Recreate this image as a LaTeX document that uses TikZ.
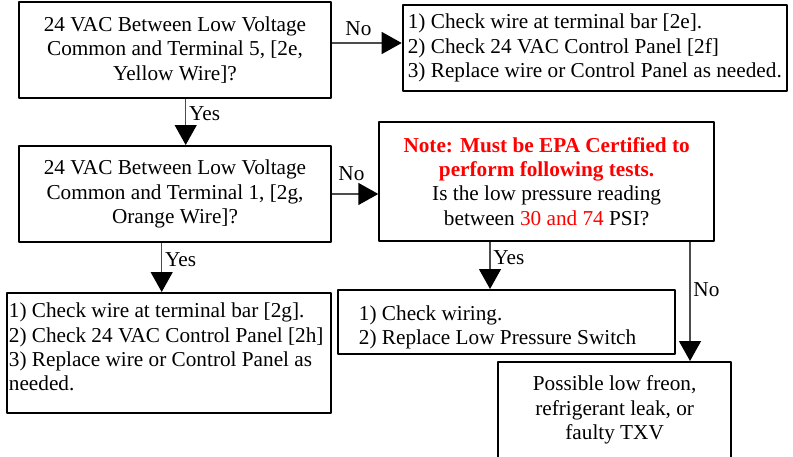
\documentclass[tikz,border=0pt]{standalone}
\usepackage{fontspec}
\setmainfont{Liberation Serif}
\usetikzlibrary{arrows.meta}
\begin{document}
\begin{tikzpicture}[x=0.565pt, y=-0.565pt, font=\fontsize{12}{13.8}\selectfont, line join=round,
  box/.style={draw, line width=1.1pt, inner sep=0pt, anchor=north west},
  arr/.style={draw=black!70, line width=0.85pt, -{Triangle[length=11.3pt, width=12.4pt, color=black]}},
  lbl/.style={inner sep=1.5pt}]
\def\px{0.565pt}
\path[use as bounding box, clip] (0,0) rectangle (793,456);
\node[box, align=center, minimum width=312*\px, minimum height=96*\px] (t5) at (18,1) {24 VAC Between Low Voltage\\Common and Terminal 5, [2e,\\Yellow Wire]?};
\node[box, align=flush left, minimum width=384.3*\px, minimum height=86*\px] (t5fix) at (401.7,4) {1) Check wire at terminal bar [2e].\\2) Check 24 VAC Control Panel [2f]\\3) Replace wire or Control Panel as needed.};
\node[box, align=center, minimum width=312*\px, minimum height=96*\px] (t1) at (18,145) {24 VAC Between Low Voltage\\Common and Terminal 1, [2g,\\Orange Wire]?};
\node[box, align=center, minimum width=334.7*\px, minimum height=119.3*\px] (lp) at (378.3,120.7) {\textcolor{red}{\textbf{Note: Must be EPA Certified to}}\\\textcolor{red}{\textbf{perform following tests.}}\\Is the low pressure reading\\between \textcolor{red}{30 and 74} PSI?};
\node[box, align=flush left, text width=180.8pt, inner xsep=1.1pt, text depth=48.2pt, minimum height=120*\px] (t1fix) at (6,292) {1) Check wire at terminal bar [2g].\\2) Check 24 VAC Control Panel [2h]\\3) Replace wire or Control Panel as\\needed.};
\node[box, align=flush left, text width=167pt, inner xsep=11.7pt, text height=14.6pt, minimum height=63.7*\px] (lpfix) at (337.3,289) {1) Check wiring.\\2) Replace Low Pressure Switch};
\node[box, align=center, minimum width=232.7*\px, inner ysep=7.9pt] (freon) at (497.3,361) {Possible low freon,\\refrigerant leak, or\\faulty TXV};
\draw[arr] (t5.east |- 0,43) -- node[lbl, above=2.3pt, pos=0.38] {No} (t5fix.west |- 0,43);
\draw[arr] (t5.south -| 185.7,0) -- node[lbl, right, pos=0.31] {Yes} (t1.north -| 185.7,0);
\draw[arr] (t1.east) -- node[lbl, above=5.6pt, pos=0.42] {No} (t1.east -| lp.west);
\draw[arr] (t1.south -| 161.7,0) -- node[lbl, right, pos=0.35] {Yes} (t1fix.north -| 161.7,0);
\draw[arr] (lp.south -| 490,0) -- node[lbl, right, pos=0.34] {Yes} (lpfix.north -| 490,0);
\draw[arr] (lp.south -| 690,0) -- node[lbl, right, pos=0.4] {No} (freon.north -| 690,0);
\end{tikzpicture}
\end{document}
